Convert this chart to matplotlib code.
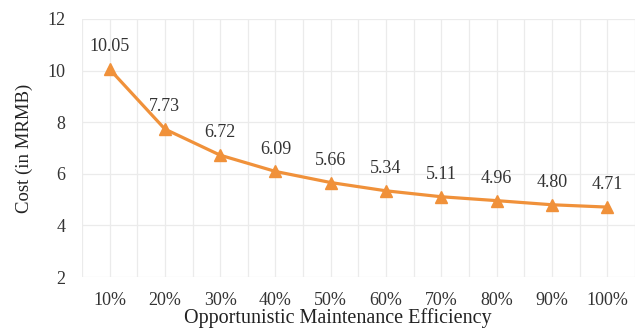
import matplotlib.pyplot as plt

categories = ['10%', '20%', '30%', '40%', '50%', '60%', '70%', '80%', '90%', '100%']
costs = [10.05, 7.73, 6.72, 6.09, 5.66, 5.34, 5.11, 4.96, 4.80, 4.71]
y_ticks = [2, 4, 6, 8, 10, 12]

plt.rcParams['font.family'] = ['Liberation Serif', 'DejaVu Serif']

fig = plt.figure(figsize=(6.38, 3.31), dpi=100)
ax = fig.add_axes([0.1285, 0.163, 0.8665, 0.78])

x = list(range(len(categories)))
ax.plot(x, costs, color='#F0913A', linewidth=2.3, marker='^', markersize=8,
        zorder=3)

# data labels above each point
for xi, v in zip(x, costs):
    ax.annotate(f'{v:.2f}', (xi, v), xytext=(0, 10), textcoords='offset points',
                ha='center', va='bottom', fontsize=13, color='#333333')

ax.set_xlim(-0.5, len(categories) - 0.5)
ax.set_ylim(2, 12)
ax.set_yticks(y_ticks)
ax.set_xticks(x)
ax.set_xticklabels(categories)

# gridlines on category centres and boundaries
ax.set_xticks([i - 0.5 for i in range(len(categories) + 1)], minor=True)
ax.grid(True, which='major', color='#EBEBEB', linewidth=0.9)
ax.grid(True, which='minor', axis='x', color='#EBEBEB', linewidth=0.9)
ax.tick_params(which='both', length=0, labelsize=13, colors='#333333', pad=11)
ax.tick_params(axis='y', pad=12)

for s in ax.spines.values():
    s.set_visible(False)

ax.set_xlabel('Opportunistic Maintenance Efficiency', fontsize=14.5, color='#222222')
ax.xaxis.set_label_coords(0.463, -0.12)
ax.set_ylabel('Cost (in MRMB)', fontsize=13.5, color='#222222', labelpad=10)

fig.savefig('out.png', dpi=100)
